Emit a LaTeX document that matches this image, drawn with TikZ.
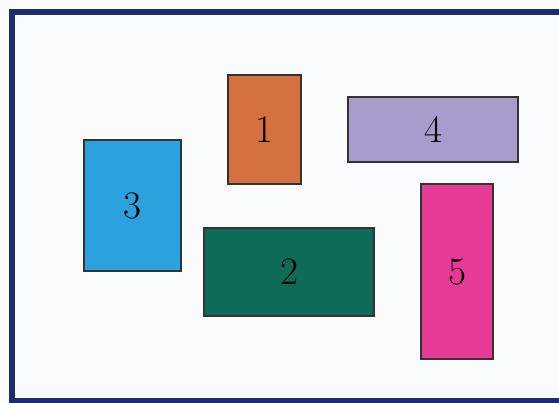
\documentclass[tikz,border=0pt]{standalone}
\usepackage{xcolor}
\definecolor{frameblue}{HTML}{1B2E6B}
\definecolor{bgwhite}{HTML}{FAFBFD}
\definecolor{cone}{HTML}{D5703F}
\definecolor{ctwo}{HTML}{0E6B57}
\definecolor{cthree}{HTML}{2BA2DE}
\definecolor{cfour}{HTML}{A99BCB}
\definecolor{cfive}{HTML}{E53A95}
\begin{document}
\begin{tikzpicture}[x=1pt,y=-1pt,
  blk/.style={draw=black!80, line width=1.2pt, inner sep=0pt, font=\fontsize{39}{42}\selectfont},
]
\useasboundingbox (0,0) rectangle (559,403);
\fill[bgwhite] (0,0) rectangle (559,403);
\draw[frameblue, line width=5.5pt] (565,12) -- (12,12) -- (12,401) -- (565,401);
\node[blk, fill=cone, minimum width=73pt, minimum height=109pt] (b1) at (264.5,129.5) {1};
\node[blk, fill=ctwo, minimum width=170pt, minimum height=88pt] (b2) at (289,272) {2};
\node[blk, fill=cthree, minimum width=97pt, minimum height=131pt] (b3) at (132.5,205.5) {3};
\node[blk, fill=cfour, minimum width=170pt, minimum height=65pt] (b4) at (433,129.5) {4};
\node[blk, fill=cfive, minimum width=72pt, minimum height=175pt] (b5) at (457,271.5) {5};
\end{tikzpicture}
\end{document}
